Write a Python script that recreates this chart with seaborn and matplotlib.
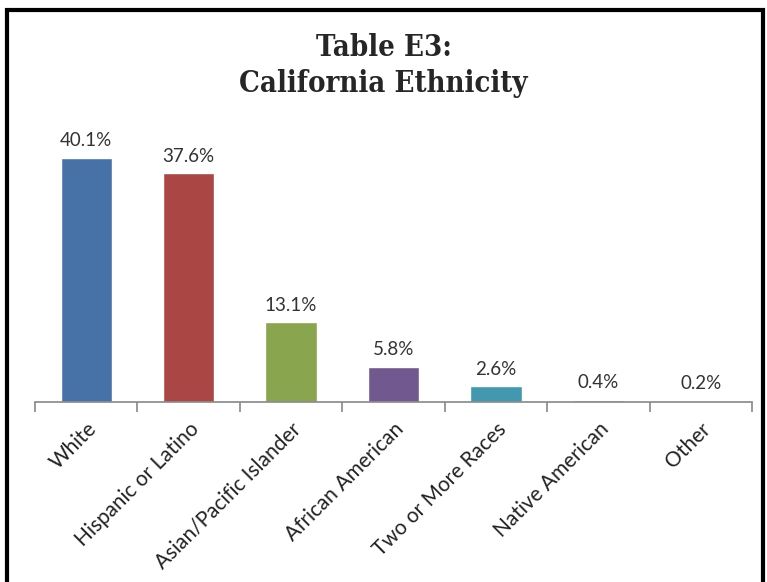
import matplotlib
matplotlib.use("Agg")
import matplotlib.pyplot as plt
import matplotlib.patches as mpatches
import pandas as pd
import seaborn as sns

# chart data
categories = ["White", "Hispanic or Latino", "Asian/Pacific Islander", "African American",
              "Two or More Races", "Native American", "Other"]
values = [40.1, 37.6, 13.1, 5.8, 2.6, 0.4, 0.2]
labels = ["40.1%", "37.6%", "13.1%", "5.8%", "2.6%", "0.4%", "0.2%"]
colors = ["#4672A8", "#AA4744", "#89A54E", "#71588F", "#4198AF", "#DB843D", "#9AA4BA"]

df = pd.DataFrame({"cat": categories, "val": values})

sns.set_style("white")
plt.rcParams["font.family"] = ["Lato", "DejaVu Sans"]

fig = plt.figure(figsize=(7.67, 5.82), dpi=100)
ax = fig.add_axes([35 / 767, 1 - 402 / 582, 717 / 767, 274 / 582])

sns.barplot(data=df, x="cat", y="val", hue="cat", palette=colors, width=0.5,
            legend=False, saturation=1, ax=ax)
ax.set_ylim(0, 45)
ax.set_xlim(-0.5, len(categories) - 0.5)

# value labels
for i, (v, lab) in enumerate(zip(values, labels)):
    ax.text(i, v + 1.4, lab, ha="center", va="bottom", fontsize=13.5, color="#333333")

# axes styling
for s in ["top", "left", "right"]:
    ax.spines[s].set_visible(False)
ax.spines["bottom"].set_color("#888888")
ax.spines["bottom"].set_linewidth(1.2)
ax.set_yticks([])
ax.set_xlabel("")
ax.set_ylabel("")
ax.set_xticks(range(len(categories)))
ax.set_xticklabels(categories, rotation=45, ha="right", rotation_mode="anchor",
                   fontsize=15, color="#222222")
ax.tick_params(axis="x", which="major", length=0, pad=12)
ax.set_xticks([i - 0.5 for i in range(len(categories) + 1)], minor=True)
ax.tick_params(axis="x", which="minor", bottom=True, length=7, color="#888888", width=1.2)

# title
fig.text(0.5, 1 - 48 / 582, "Table E3:", ha="center", va="center", fontsize=21,
         fontweight="bold", family="DejaVu Serif", stretch="condensed")
fig.text(0.5, 1 - 84 / 582, "California Ethnicity", ha="center", va="center", fontsize=21,
         fontweight="bold", family="DejaVu Serif", stretch="condensed")

# outer border
fig.patches.append(mpatches.Rectangle((7 / 767, -0.1), 756 / 767, 1.1 - 10 / 582,
                                      transform=fig.transFigure, fill=False,
                                      edgecolor="black", linewidth=3))

fig.savefig("out.png", dpi=100)
